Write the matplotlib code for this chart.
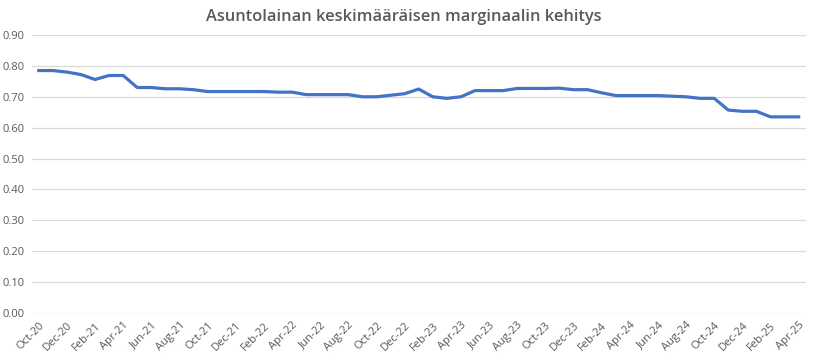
import matplotlib.pyplot as plt
import numpy as np

month_names = ["Jan", "Feb", "Mar", "Apr", "May", "Jun", "Jul", "Aug", "Sep", "Oct", "Nov", "Dec"]
labels = []
for i in range(55):  # Oct-20 ... Apr-25
    m = (9 + i) % 12
    y = 20 + (9 + i) // 12
    labels.append(f"{month_names[m]}-{y}")

margin = [0.785, 0.785, 0.780, 0.772, 0.756, 0.769, 0.769, 0.730, 0.730, 0.726,
          0.726, 0.723, 0.717, 0.717, 0.717, 0.717, 0.717, 0.715, 0.715, 0.707,
          0.707, 0.707, 0.707, 0.700, 0.700, 0.705, 0.710, 0.725, 0.700, 0.695,
          0.700, 0.720, 0.720, 0.720, 0.727, 0.727, 0.727, 0.728, 0.723, 0.723,
          0.713, 0.704, 0.704, 0.704, 0.704, 0.702, 0.700, 0.695, 0.695, 0.657,
          0.653, 0.653, 0.635, 0.635, 0.635]

yticks = np.arange(0, 0.91, 0.1)

fig = plt.figure(figsize=(8.13, 3.53), dpi=100)
ax = fig.add_axes([0.039, 0.1133, 0.952, 0.7875])

x = np.arange(len(margin))
ax.plot(x, margin, color="#4472C4", linewidth=2.3, solid_joinstyle="round")

ax.set_xlim(-0.5, len(margin) - 0.5)
ax.set_ylim(0, 0.9)
ax.set_yticks(yticks)
ax.set_yticklabels([f"{v:.2f}" for v in yticks], fontsize=8, color="#595959", family="Open Sans")
ax.set_xticks(x[::2])
ax.set_xticklabels(labels[::2], rotation=45, ha="right", rotation_mode="anchor",
                   fontsize=8, color="#595959", family="Open Sans")
ax.tick_params(length=0, pad=5)
ax.grid(axis="y", color="#D9D9D9", linewidth=0.9)
ax.set_axisbelow(True)
for s in ax.spines.values():
    s.set_visible(False)

fig.text(0.497, 0.952, "Asuntolainan keskimääräisen marginaalin kehitys", ha="center", va="center",
         fontsize=11.8, color="#595959", family="Open Sans", weight="semibold")

fig.savefig("out.png", dpi=100)
